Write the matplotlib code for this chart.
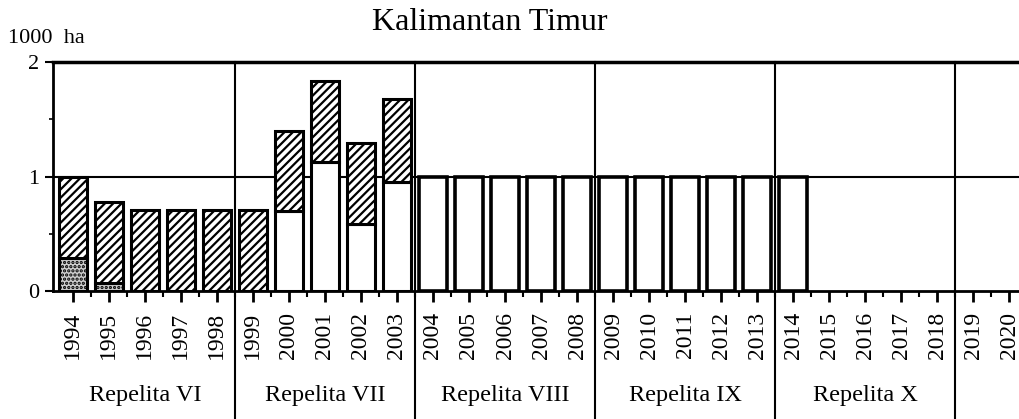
import matplotlib
matplotlib.use("Agg")
import matplotlib.pyplot as plt
import matplotlib.transforms as mtransforms
import numpy as np

years = list(range(1994, 2021))
# bottom segment (1994-1995 dotted grey; 2000-2003 white)
grey_bottom = {1994: 0.29, 1995: 0.07}
white_bottom = {2000: 0.70, 2001: 1.13, 2002: 0.59, 2003: 0.95}
# hatched top segment (total heights)
hatched_total = {1994: 1.00, 1995: 0.78, 1996: 0.71, 1997: 0.71, 1998: 0.71,
                 1999: 0.71, 2000: 1.40, 2001: 1.83, 2002: 1.29, 2003: 1.68}
# plain white bars
plain_years = list(range(2004, 2015))
plain_values = [1.0] * len(plain_years)

separators = [1998.5, 2003.5, 2008.5, 2013.5, 2018.5]
periods = ["Repelita VI", "Repelita VII", "Repelita VIII", "Repelita IX", "Repelita X"]
period_centers = [1996, 2001, 2006, 2011, 2016]

plt.rcParams['hatch.linewidth'] = 1.6
serif = ['Liberation Serif', 'DejaVu Serif']

fig = plt.figure(figsize=(10.2, 4.19), dpi=100)
ax = fig.add_axes([0.052, 0.305, 0.948, 0.547])

w = 0.78
lw = 2.2
for y, v in grey_bottom.items():
    ax.bar(y, v, width=w, color='#cfcfcf', edgecolor='black', hatch='....', linewidth=lw, zorder=3)
for y, v in white_bottom.items():
    ax.bar(y, v, width=w, color='white', edgecolor='black', linewidth=lw, zorder=3)
for y, tot in hatched_total.items():
    base = grey_bottom.get(y, white_bottom.get(y, 0.0))
    ax.bar(y, tot - base, bottom=base, width=w, color='white', edgecolor='black',
           hatch='////', linewidth=lw, zorder=3)
ax.bar(plain_years, plain_values, width=w, color='white', edgecolor='black', linewidth=2.6, zorder=3)

ax.set_xlim(1993.45, 2020.3)
ax.set_ylim(0, 2)
ax.axhline(1, color='black', lw=1.5, zorder=2)
ax.axhline(2, color='black', lw=2.5, zorder=2, clip_on=False)

for s in ['top', 'right']:
    ax.spines[s].set_visible(False)
ax.spines['left'].set_linewidth(2)
ax.spines['bottom'].set_linewidth(2)

ax.set_yticks([0, 1, 2])
ax.set_yticklabels(['0', '1', '2'], fontfamily=serif, fontsize=16)
ax.set_yticks([0.5, 1.5], minor=True)
ax.tick_params(axis='y', which='major', length=6, width=1.5, direction='out', pad=4)
ax.tick_params(axis='y', which='minor', length=3, width=1.2)

ax.set_xticks(years)
ax.set_xticklabels([str(y) for y in years], rotation=90, fontfamily=serif, fontsize=17)
ax.set_xticks(np.array(years[:-1]) + 0.5, minor=True)
ax.tick_params(axis='x', which='major', length=8, width=2, direction='out', pad=7)
ax.tick_params(axis='x', which='minor', length=4, width=1.5, direction='out')

trans = mtransforms.blended_transform_factory(ax.transData, fig.transFigure)
top_fig = 0.852
for s in separators:
    ax.plot([s, s], [0, top_fig], transform=trans, color='black', lw=1.5, clip_on=False, zorder=4)

for c, p in zip(period_centers, periods):
    ax.text(c, 0.055, p, transform=trans, ha='center', va='center', fontfamily=serif, fontsize=17.5)

fig.text(0.48, 0.947, "Kalimantan Timur", ha='center', va='center', fontfamily=serif, fontsize=23)
fig.text(0.008, 0.909, "1000  ha", ha='left', va='center', fontfamily=serif, fontsize=16)

fig.savefig("out.png", dpi=100)
